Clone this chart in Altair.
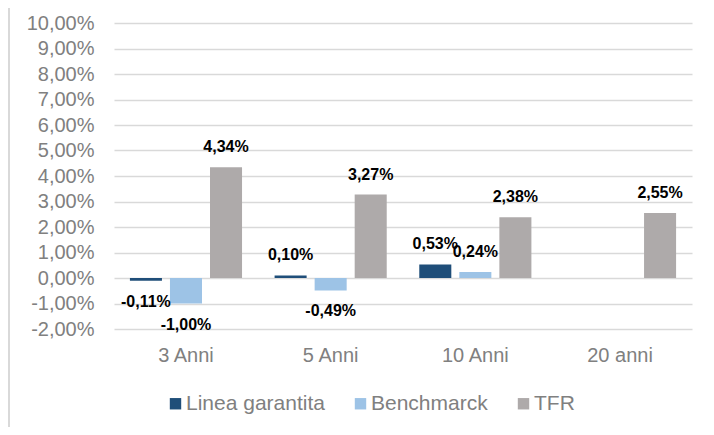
import altair as alt
import pandas as pd

categories = ["3 Anni", "5 Anni", "10 Anni", "20 anni"]
series = ["Linea garantita", "Benchmarck", "TFR"]
linea_garantita = [-0.0011, 0.0010, 0.0053, None]
benchmarck = [-0.0100, -0.0049, 0.0024, None]
tfr = [0.0434, 0.0327, 0.0238, 0.0255]
colors = ["#1F4E79", "#9DC3E6", "#AEAAAA"]

rows = []
for s, vals in zip(series, [linea_garantita, benchmarck, tfr]):
    for c, v in zip(categories, vals):
        if v is not None:
            rows.append({"cat": c, "serie": s, "val": v})
df = pd.DataFrame(rows)

FONT = "Liberation Sans"
GRAY = "#808080"

x_enc = alt.X("cat:N", sort=categories, title=None,
              scale=alt.Scale(paddingInner=0.225, paddingOuter=0.11),
              axis=alt.Axis(labelFontSize=20, labelColor=GRAY, labelFont=FONT,
                            ticks=False, domain=False, grid=False,
                            labelAngle=0, labelPadding=16))
xo_enc = alt.XOffset("serie:N", sort=series,
                     scale=alt.Scale(paddingInner=0.2, paddingOuter=0))
y_enc = alt.Y("val:Q", title=None,
              scale=alt.Scale(domain=[-0.02, 0.10], nice=False),
              axis=alt.Axis(values=[-0.02 + 0.01 * i for i in range(13)],
                            labelExpr="replace(replace(format(datum.value, '.2%'), '.', ','), '\u2212', '-')",
                            labelFontSize=20, labelColor=GRAY, labelFont=FONT,
                            ticks=False, domain=False, labelPadding=20,
                            grid=True, gridColor="#D9D9D9", gridWidth=1.5))

base = alt.Chart(df).transform_calculate(
    lab="replace(replace(format(datum.val, '.2%'), '.', ','), '\u2212', '-')"
)

bars = base.mark_bar().encode(
    x=x_enc, xOffset=xo_enc, y=y_enc,
    color=alt.Color("serie:N", sort=series, title=None,
                    scale=alt.Scale(domain=series, range=colors),
                    legend=alt.Legend(orient="none", direction="horizontal",
                                      legendX=51, legendY=370,
                                      symbolType="square", symbolSize=130,
                                      symbolStrokeWidth=0,
                                      labelFontSize=21, labelColor=GRAY, labelFont=FONT,
                                      labelOffset=0, columnPadding=25)),
)

pos = base.transform_filter("datum.val >= 0").mark_text(
    fontSize=16, fontWeight="bold", font=FONT, color="#000000",
    baseline="middle", dy=-20
).encode(x=x_enc, xOffset=xo_enc, y=y_enc, text="lab:N")

neg = base.transform_filter("datum.val < 0").mark_text(
    fontSize=16, fontWeight="bold", font=FONT, color="#000000",
    baseline="middle", dy=21
).encode(x=x_enc, xOffset=xo_enc, y=y_enc, text="lab:N")

frame = alt.Chart(pd.DataFrame({"a": [0]})).mark_rule(
    color="#D9D9D9", strokeWidth=2, clip=False
).encode(x=alt.value(-105), x2=alt.value(-105), y=alt.value(-23), y2=alt.value(412))

chart = alt.layer(bars, pos, neg, frame).properties(
    width=578, height=306,
    autosize=alt.AutoSizeParams(type="none"),
    padding={"left": 106, "top": 15, "right": 14, "bottom": 98},
).configure(background="white").configure_view(stroke="transparent", strokeWidth=0)

chart.save("out.html", embed_options={"renderer": "svg", "actions": False})
